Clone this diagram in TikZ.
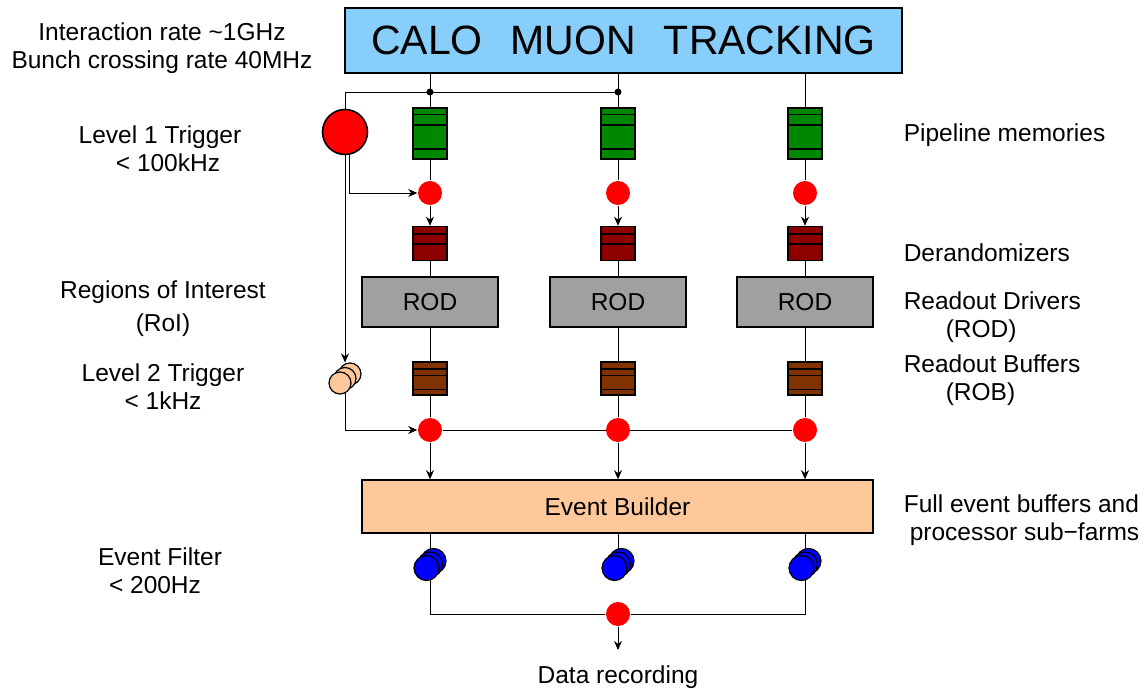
\documentclass[tikz,border=0pt]{standalone}
\usepackage{fontspec}
\setmainfont{Liberation Sans}
\usetikzlibrary{calc,arrows.meta,backgrounds}

\newcommand\labfont{\fontsize{12.25}{14}\selectfont}
\definecolor{detblue}{RGB}{135,206,250}
\definecolor{pipegreen}{RGB}{0,135,0}
\definecolor{derred}{RGB}{140,0,0}
\definecolor{robbrown}{RGB}{128,50,0}
\definecolor{rodgray}{RGB}{160,160,160}
\definecolor{ebpeach}{RGB}{255,200,155}

\tikzset{
  lab/.style={font=\labfont, inner sep=0pt},
  buffer/.style n args={2}{rectangle, draw, fill=#1, minimum width=17pt,
    minimum height=17pt, inner sep=0pt,
    path picture={\foreach \f in {#2}
      \draw ($(path picture bounding box.north west)!\f!(path picture bounding box.south west)$)
         -- ($(path picture bounding box.north east)!\f!(path picture bounding box.south east)$);}},
  pipe/.style={buffer={pipegreen}{0.13,0.33,0.8}, minimum height=25.5pt},
  derand/.style={buffer={derred}{0.22,0.52}},
  rob/.style={buffer={robbrown}{0.22,0.41,0.83}, minimum height=16.5pt},
  rod/.style={rectangle, draw, fill=rodgray, minimum width=68pt, minimum height=25pt, font=\labfont},
  reddot/.style={circle, fill=red, minimum size=12pt, inner sep=0pt},
  junc/.style={circle, fill=black, minimum size=3.5pt, inner sep=0pt},
  disc/.style={circle, draw, fill=#1, inner sep=0pt, line width=0.6pt},
}

\begin{document}
\begin{tikzpicture}[x=0.5pt, y=-0.5pt, >={Stealth[length=4.5pt,width=4pt]}, line width=0.8pt]
  \useasboundingbox (0,0) rectangle (1146,689);

  %%%%% detectors %%%%%
  \node[rectangle, draw, fill=detblue, minimum width=278.5pt, minimum height=32.5pt,
        font=\fontsize{20.5}{24}\selectfont] (det) at (623.5,40.5)
        {\raisebox{-1.5pt}{CALO\hspace{14pt}MUON\hspace{14pt}TRACKING}};

  %%%%% level 1 %%%%%
  \node[circle, draw, fill=red, minimum size=22.5pt, inner sep=0pt] (l1) at (345,132) {};
  \coordinate (j1) at (430,92);
  \coordinate (j2) at (618,92);

  %%%%% readout columns %%%%%
  \foreach \i/\x in {1/430,2/618,3/805} {
    \node[pipe] (pipe\i) at (\x,133.5) {};
    \node[reddot] (acc\i) at (\x,193) {};
    \node[derand] (der\i) at (\x,243.5) {};
    \node[rod] (rod\i) at (\x,302) {ROD};
    \node[rob] (rob\i) at (\x,378.5) {};
    \node[reddot] (sel\i) at (\x,430) {};
  }

  %%%%% level 2 %%%%%
  \node[disc=ebpeach, minimum size=11pt] (l2b) at (350,374) {};
  \node[disc=ebpeach, minimum size=11pt] (l2) at (345,378.5) {};
  \node[disc=ebpeach, minimum size=11pt] (l2f) at (340,383) {};

  %%%%% event builder and filter %%%%%
  \node[rectangle, draw, fill=ebpeach, minimum width=255.5pt, minimum height=26.5pt,
        font=\labfont] (eb) at (617.5,506.5) {Event Builder};
  \foreach \i/\x in {1/430,2/618,3/805} {
    \node[disc=blue, minimum size=12.5pt] (ef\i b) at (\x+3.5,561) {};
    \node[disc=blue, minimum size=12.5pt] (ef\i) at (\x,564.5) {};
    \node[disc=blue, minimum size=12.5pt] (ef\i f) at (\x-3.5,568) {};
  }
  \node[reddot] (out) at (618,614) {};
  \coordinate (rec) at (618,650);

  %%%%% connections %%%%%
  \begin{scope}[on background layer]
    \draw (l1) |- (j2);
    \foreach \i in {1,2,3} {
      \draw (det.south -| pipe\i) -- (pipe\i);
      \draw (pipe\i) -- (acc\i);
      \draw[->] (acc\i) -- (der\i);
      \draw (der\i) -- (rod\i);
      \draw (rod\i) -- (rob\i);
      \draw (rob\i) -- (sel\i);
      \draw[->] (sel\i) -- (sel\i |- eb.north);
      \draw (eb.south -| ef\i) -- (ef\i);
    }
    \draw[->] ([xshift=2pt]l1.south) |- (acc1);
    \draw[->] (l1) -- (l1 |- l2b.north);
    \draw[->] (l2) |- (sel1);
    \draw (sel1) -- (sel3);
    \draw (ef1) |- (out) -| (ef3);
    \draw[->] (out) -- (rec);
  \end{scope}
  \node[junc] (jd1) at (j1) {};
  \node[junc] (jd2) at (j2) {};

  %%%%% labels %%%%%
  \node[lab, align=center] (rate) at (162,48) {Interaction rate \textasciitilde1GHz\\Bunch crossing rate 40MHz};
  \node[lab, align=center] (trig1) at (160,148.5) {Level 1 Trigger\\\hspace*{8pt}< 100kHz};
  \node[lab, align=center] (roi) at (163,308.5) {Regions of Interest\\[2.5pt](RoI)};
  \node[lab, align=center] (trig2) at (163,386.5) {Level 2 Trigger\\< 1kHz};
  \node[lab, align=center] (filt) at (160,570.5) {Event Filter\\< 200Hz\hspace*{5pt}};

  \node[lab, anchor=west] (pipelab) at (903,135) {Pipeline memories};
  \node[lab, anchor=west] (derlab) at (903,253) {Derandomizers};
  \node[lab, anchor=west, align=left] (rodlab) at (903,317.5) {Readout Drivers\\\hspace*{21pt}(ROD)};
  \node[lab, anchor=west, align=left] (roblab) at (903,380) {Readout Buffers\\\hspace*{21pt}(ROB)};
  \node[lab, anchor=west, align=left] (eblab) at (903,520.5) {Full event buffers and\\\hspace*{3pt}processor sub−farms};
  \node[lab] (reclab) at (618,677) {Data recording};
\end{tikzpicture}
\end{document}
